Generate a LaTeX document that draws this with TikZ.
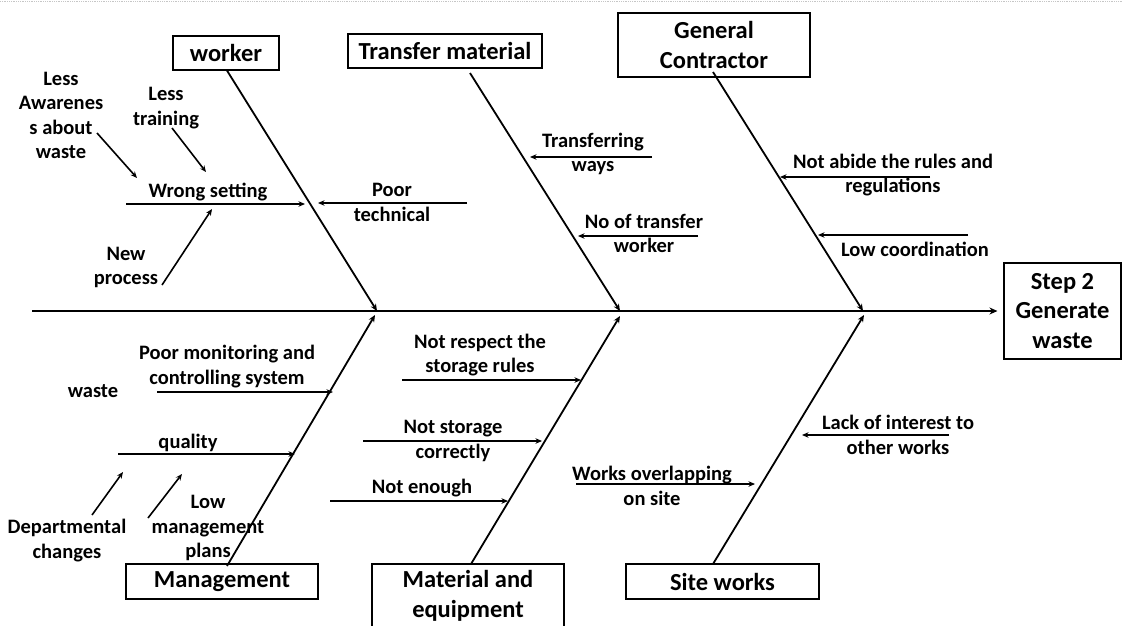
\documentclass[tikz,border=0pt]{standalone}
\usepackage{fontspec}
\setmainfont{Carlito}
\usetikzlibrary{arrows.meta}
\begin{document}
\begin{tikzpicture}[x=1pt,y=-1pt,
  box/.style={draw, line width=1.1pt, inner sep=0pt, align=center,
    font=\bfseries\fontsize{24.5}{29.5}\selectfont},
  lbl/.style={inner sep=0pt, align=center,
    font=\bfseries\fontsize{20.5}{24.5}\selectfont},
  spine/.style={line width=2.2pt, -{Stealth[length=8pt,width=7pt]}},
  bone/.style={line width=1.8pt, -{Stealth[length=7pt,width=6pt]}},
  sub/.style={line width=1.6pt, -{Stealth[length=6.5pt,width=5.5pt]}}
]
\useasboundingbox (0,0) rectangle (1122,626);
\draw[gray!45, densely dotted, line width=0.8pt] (0,1) -- (1122,1);

% category boxes
\node[box, minimum width=106pt, minimum height=34pt] (worker) at (226,53) {worker};
\node[box, minimum width=194pt, minimum height=34pt] (transfer) at (445,51) {Transfer material};
\node[box, minimum width=192pt, minimum height=64pt] (gc) at (714,45) {General\\Contractor};
\node[box, minimum width=117pt, minimum height=96pt] (effect) at (1062.5,311) {Step 2\\Generate\\waste};
\node[box, minimum width=192pt, minimum height=35pt] (mgmt) at (222,581.5) {Management};
\node[box, minimum width=192pt, minimum height=64pt] (mat) at (468,596) {Material and\\equipment};
\node[box, minimum width=193pt, minimum height=35pt] (site) at (722.5,581.5) {Site works};

% spine
\coordinate (tail) at (32,311);
\coordinate (j1) at (377,311);
\coordinate (j2) at (620,311);
\coordinate (j3) at (863,311);
\draw[spine, shorten >=6pt] (tail) -- (effect.west);

% main bones
\draw[bone] (worker.south) ++(1,0) coordinate (w0) -- (j1);
\draw[bone] (470,73) coordinate (t0) -- (j2);
\draw[bone] (713,72) coordinate (g0) -- (j3);
\coordinate (k1) at (375,315);
\coordinate (k2) at (620,316);
\coordinate (k3) at (864,315);
\draw[bone] (227,566) coordinate (m0) -- (k1);
\draw[bone] (471,564) coordinate (e0) -- (k2);
\draw[bone] (713,564) coordinate (s0) -- (k3);

% worker causes
\node[lbl] (wrong) at (208,192) {Wrong setting};
\coordinate (wrongA) at (126,204); \coordinate (wrongB) at (305,204);
\draw[sub] (wrongA) -- (wrongB);
\node[lbl] (poortech) at (392,202.5) {Poor\\technical};
\coordinate (ptA) at (467,203); \coordinate (ptB) at (318,203);
\draw[sub] (ptA) -- (ptB);
\node[lbl] (aware) at (61,115.5) {Less\\Awarenes\\s about\\waste};
\coordinate (awA) at (97,133); \coordinate (awB) at (137,178);
\draw[sub] (awA) -- (awB);
\node[lbl] (training) at (166,108) {Less\\training};
\coordinate (trA) at (172,128); \coordinate (trB) at (206,172);
\draw[sub] (trA) -- (trB);
\node[lbl] (newproc) at (126,267.5) {New\\process};
\coordinate (npA) at (162,285); \coordinate (npB) at (212,209);
\draw[sub] (npA) -- (npB);

% transfer material causes
\node[lbl] (ways) at (593,154) {Transferring\\ways};
\coordinate (wyA) at (652,157); \coordinate (wyB) at (530,157);
\draw[sub] (wyA) -- (wyB);
\node[lbl] (notw) at (644,233.5) {No of transfer\\worker};
\coordinate (nwA) at (698,236); \coordinate (nwB) at (578,236);
\draw[sub] (nwA) -- (nwB);

% general contractor causes
\node[lbl] (abide) at (893,175) {Not abide the rules and\\regulations};
\coordinate (abA) at (930,177); \coordinate (abB) at (780,177);
\draw[sub] (abA) -- (abB);
\node[lbl] (coord) at (915,249) {Low coordination};
\coordinate (lcA) at (968,235); \coordinate (lcB) at (818,235);
\draw[sub] (lcA) -- (lcB);

% management causes
\node[lbl] (monitor) at (227,366.5) {Poor monitoring and\\controlling system};
\coordinate (pmA) at (157,392); \coordinate (pmB) at (333,392);
\draw[sub] (pmA) -- (pmB);
\node[lbl] (waste) at (93,391) {waste};
\node[lbl] (quality) at (188,443) {quality};
\coordinate (qA) at (118,454); \coordinate (qB) at (295,454);
\draw[sub] (qA) -- (qB);
\node[lbl] (dept) at (67,540.5) {Departmental\\changes};
\coordinate (dcA) at (92,515); \coordinate (dcB) at (123,472);
\draw[sub] (dcA) -- (dcB);
\node[lbl] (lowplan) at (208,528) {Low\\management\\plans};
\coordinate (lpA) at (148,518); \coordinate (lpB) at (182,474);
\draw[sub] (lpA) -- (lpB);

% material and equipment causes
\node[lbl] (rules) at (480,355) {Not respect the\\storage rules};
\coordinate (srA) at (402,380); \coordinate (srB) at (581,380);
\draw[sub] (srA) -- (srB);
\node[lbl] (stor) at (453,441) {Not storage\\correctly};
\coordinate (nsA) at (363,441); \coordinate (nsB) at (542,441);
\draw[sub] (nsA) -- (nsB);
\node[lbl] (enough) at (422,488) {Not enough};
\coordinate (neA) at (330,501); \coordinate (neB) at (508,501);
\draw[sub] (neA) -- (neB);

% site works causes
\node[lbl] (overlap) at (652,486) {Works overlapping\\on site};
\coordinate (woA) at (576,484); \coordinate (woB) at (755,484);
\draw[sub] (woA) -- (woB);
\node[lbl] (interest) at (898,435) {Lack of interest to\\other works};
\coordinate (liA) at (949,435); \coordinate (liB) at (802,435);
\draw[sub] (liA) -- (liB);
\end{tikzpicture}
\end{document}
